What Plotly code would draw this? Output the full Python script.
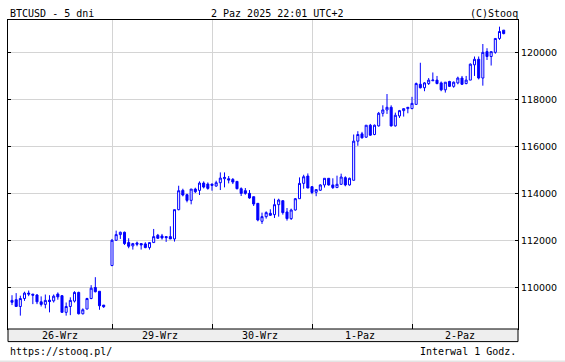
import plotly.graph_objects as go

# ---- data ----
day_labels = ["26-Wrz", "29-Wrz", "30-Wrz", "1-Paz", "2-Paz"]
candles_per_day = [23, 24, 24, 24, 23]

opens = [
    109450, 109480, 109190, 109530, 109760, 109716, 109680, 109390, 109280, 109460, 109430, 109720, 109650, 108940, 109190, 109420, 109790, 108880, 109080, 109530, 110000, 109840, 109250,
    110936, 112014, 112255, 112355, 111915, 111773, 111900, 111872, 111858, 111702, 111915, 112227, 112199, 112170, 112170, 112071, 113319, 114141, 113957, 113716, 114198, 114141, 114453, 114410,
    114411, 114326, 114468, 114638, 114638, 114610, 114525, 114213, 114128, 114014, 113872, 113589, 112823, 113021, 113163, 113107, 113532, 113702, 113220, 112937, 113305, 113787, 114440, 114752,
    114300, 114061, 114147, 114373, 114656, 114373, 114260, 114401, 114684, 114373, 114571, 116241, 116552, 116410, 116920, 116524, 116891, 117429, 117571, 117684, 116891, 117316, 117542, 117627,
    117630, 117808, 118666, 118518, 118696, 118814, 118844, 118725, 118429, 118784, 118577, 118725, 118932, 118696, 118844, 119495, 119732, 118932, 120058, 119850, 120028, 120620, 120975,
]
highs = [
    109670, 109760, 109650, 109820, 109870, 109730, 109720, 109620, 109700, 109670, 109700, 109790, 109680, 109360, 109580, 109840, 109820, 109110, 109560, 110100, 110440, 109840, 109250,
    112071, 112425, 112383, 112383, 112099, 111901, 111957, 111872, 111929, 111915, 112496, 112284, 112284, 112170, 112610, 113319, 114340, 114212, 113999, 114198, 114255, 114524, 114524, 114481,
    114425, 114553, 114908, 114908, 114752, 114666, 114525, 114269, 114241, 114156, 113872, 113589, 113192, 113248, 113334, 113787, 113787, 113702, 113390, 113362, 113816, 114695, 114808, 114865,
    114320, 114175, 114401, 114656, 114656, 114656, 114769, 114854, 114741, 114684, 116524, 116665, 116637, 116920, 116976, 116948, 117486, 117769, 118250, 117769, 117457, 117571, 117627, 117684,
    118130, 118740, 119584, 118755, 118932, 119169, 119021, 118784, 118755, 118814, 118784, 118992, 119021, 119021, 119554, 119850, 119850, 120383, 120205, 120058, 120620, 121123, 120975,
]
lows = [
    109250, 109190, 108800, 109430, 109630, 109290, 109290, 109190, 109110, 108940, 109360, 109480, 108940, 108800, 108820, 109360, 108850, 108850, 109080, 109500, 109790, 109050, 109130,
    110908, 111986, 112071, 111816, 111674, 111617, 111759, 111617, 111674, 111617, 111915, 112071, 112043, 111943, 112071, 111957, 113290, 113886, 113631, 113546, 114028, 113943, 114226, 114170,
    114128, 114298, 114156, 114270, 114440, 114411, 114184, 113901, 113957, 113787, 113475, 112823, 112710, 112937, 113050, 112965, 113021, 113107, 112851, 112880, 113277, 113787, 114213, 114241,
    113980, 113892, 114118, 114260, 114344, 114203, 114260, 114373, 114316, 114344, 114571, 116043, 116354, 116382, 116467, 116495, 116863, 117288, 117401, 116863, 116863, 117231, 117288, 117429,
    117600, 117808, 118488, 118370, 118636, 118814, 118666, 118370, 118311, 118548, 118518, 118666, 118636, 118666, 118844, 119021, 118873, 118607, 119702, 119465, 119968, 120560, 120797,
]
closes = [
    109370, 109190, 109530, 109760, 109720, 109674, 109390, 109280, 109450, 109400, 109630, 109600, 108940, 109190, 109450, 109790, 108880, 109050, 109530, 109970, 109820, 109220, 109180,
    112014, 112255, 112355, 111872, 111759, 111872, 111844, 111816, 111702, 111915, 112170, 112099, 112113, 112128, 112071, 113319, 114127, 113943, 113716, 114198, 114085, 114453, 114283, 114226,
    114354, 114468, 114666, 114695, 114581, 114496, 114213, 114014, 114014, 113816, 113560, 112880, 113021, 113192, 113078, 113532, 113730, 113192, 112937, 113305, 113787, 114440, 114723, 114241,
    114050, 114175, 114373, 114656, 114373, 114260, 114401, 114712, 114373, 114656, 116241, 116524, 116382, 116920, 116495, 116920, 117429, 117571, 117684, 116891, 117344, 117542, 117627, 117684,
    117852, 118696, 118518, 118725, 118844, 118844, 118696, 118429, 118755, 118577, 118755, 118932, 118666, 118844, 119524, 119732, 118932, 120028, 119850, 120058, 120620, 120916, 120827,
]
y_ticks = [110000, 112000, 114000, 116000, 118000, 120000]

# time slots: 24 hourly slots per day
slots = []
for d, n in enumerate(candles_per_day):
    for h in range(n):
        slots.append(d * 24 + h)

BLUE = "#0000ff"
MONO = "DejaVu Sans Mono"

fig = go.Figure(go.Candlestick(
    x=slots, open=opens, high=highs, low=lows, close=closes,
    increasing=dict(line=dict(color=BLUE, width=1), fillcolor="#ffffff"),
    decreasing=dict(line=dict(color=BLUE, width=1), fillcolor=BLUE),
    whiskerwidth=0, hoverinfo="skip",
))

plot_h = 309.0
def py(pix):  # pixel row -> paper y
    return (329 - pix) / plot_h

fig.update_layout(
    width=565, height=362,
    margin=dict(l=8, r=47, t=20, b=33, pad=0),
    paper_bgcolor="white", plot_bgcolor="white",
    showlegend=False,
    xaxis=dict(
        range=[-0.96, 121.44], rangeslider=dict(visible=False),
        tickvals=[24, 48, 72, 96], showticklabels=False,
        ticks="inside", ticklen=5, tickcolor="black", tickwidth=1,
        showgrid=True, gridcolor="#d4d4d4", gridwidth=1,
        showline=True, linecolor="black", linewidth=1, mirror=True,
        zeroline=False, fixedrange=True,
    ),
    yaxis=dict(
        range=[108230, 121407], side="right",
        tickvals=y_ticks, tickformat="d",
        ticks="inside", ticklen=3, tickcolor="black", tickwidth=1,
        showgrid=True, gridcolor="#d4d4d4", gridwidth=1,
        showline=True, linecolor="black", linewidth=1, mirror="ticks",
        zeroline=False, fixedrange=True,
        tickfont=dict(family="DejaVu Sans", size=9.5, color="black"),
    ),
    shapes=[
        dict(type="rect", xref="paper", yref="paper", x0=0, x1=1,
             y0=py(341.6), y1=0, fillcolor="#eeeeee",
             line=dict(color="black", width=1), layer="above"),
        dict(type="rect", xref="paper", yref="paper", x0=-8/510, x1=557/510,
             y0=py(362.5), y1=py(360.5), fillcolor="#e4e4e4",
             line=dict(width=0), layer="above"),
    ],
)

annos = []
for d, lab in enumerate(day_labels):
    annos.append(dict(x=d * 24 + 11.5, xref="x", y=py(335.3), yref="paper",
                      text=lab, showarrow=False, xanchor="center", yanchor="middle",
                      font=dict(family=MONO, size=10, color="black")))
annos += [
    dict(x=0, y=py(13.6), text="BTCUSD - 5 dni", xanchor="left"),
    dict(x=(277 - 8) / 510, y=py(13.6), text="2 Paz 2025 22:01 UTC+2", xanchor="center"),
    dict(x=(520 - 8) / 510, y=py(13.6), text="(C)Stooq", xanchor="right"),
    dict(x=0, y=py(351.2), text="https://stooq.pl/", xanchor="left"),
    dict(x=1, y=py(351.2), text="Interwal 1 Godz.", xanchor="right"),
]
for a in annos[len(day_labels):]:
    a.update(xref="paper", yref="paper", showarrow=False, yanchor="middle",
             font=dict(family=MONO, size=10, color="black"))
fig.update_layout(annotations=annos)

fig.write_html("out.html")
